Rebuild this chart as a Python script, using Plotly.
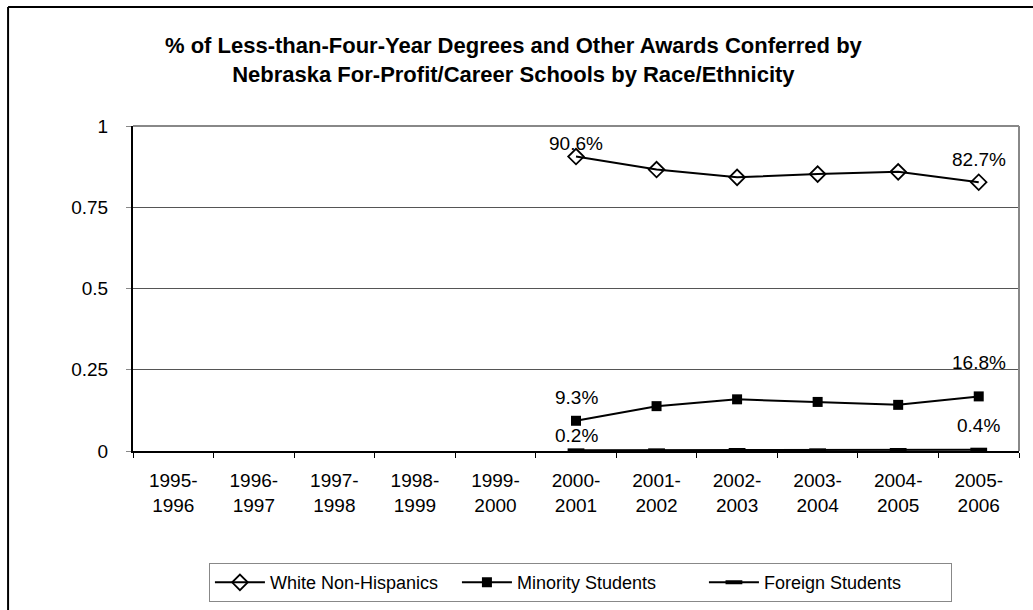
import plotly.graph_objects as go

# Academic years on the category axis
years = ["1995-1996", "1996-1997", "1997-1998", "1998-1999", "1999-2000",
         "2000-2001", "2001-2002", "2002-2003", "2003-2004", "2004-2005",
         "2005-2006"]
tick_text = [y.replace("-", "-<br>") for y in years]

# Share of awards (fraction); no data before 2000-2001
white = [None, None, None, None, None, 0.906, 0.866, 0.842, 0.852, 0.859, 0.827]
minority = [None, None, None, None, None, 0.093, 0.138, 0.159, 0.151, 0.142, 0.168]
foreign = [None, None, None, None, None, 0.002, 0.002, 0.003, 0.002, 0.003, 0.004]

# Label offsets (px) for the first and last points of each series
label_shift = {"white": (13, 23), "minority": (23, 34), "foreign": (15, 24)}

FONT = "Liberation Sans, Arial, sans-serif"

fig = go.Figure()
fig.add_trace(go.Scatter(
    x=years, y=white, name="White Non-Hispanics", mode="lines+markers",
    line=dict(color="black", width=2),
    marker=dict(symbol="diamond-open", size=12, color="black", line=dict(width=1.8)),
))
fig.add_trace(go.Scatter(
    x=years, y=minority, name="Minority Students", mode="lines+markers",
    line=dict(color="black", width=2),
    marker=dict(symbol="square", size=10, color="black"),
))
fig.add_trace(go.Scatter(
    x=years, y=foreign, name="Foreign Students", mode="lines+markers",
    line=dict(color="black", width=2),
    marker=dict(symbol="line-ew", size=12, color="black", line=dict(width=4, color="black")),
))

annotations = []
for key, series in (("white", white), ("minority", minority), ("foreign", foreign)):
    first = next(i for i, v in enumerate(series) if v is not None)
    last = len(series) - 1
    for idx, shift in zip((first, last), label_shift[key]):
        annotations.append(dict(
            x=years[idx], y=series[idx], xref="x", yref="y",
            text=f"{series[idx] * 100:.1f}%", showarrow=False,
            yshift=shift, font=dict(family=FONT, size=19, color="black"),
        ))

shapes = [
    # gray frame on top and right of the plot area
    dict(type="line", xref="paper", yref="paper", x0=0, x1=1, y0=1, y1=1,
         line=dict(color="#888888", width=2)),
    dict(type="line", xref="paper", yref="paper", x0=1, x1=1, y0=0, y1=1,
         line=dict(color="#888888", width=2)),
    # outer chart border
    dict(type="line", xref="paper", yref="paper", x0=-0.141, x1=-0.141, y0=-0.55, y1=1.366,
         line=dict(color="black", width=2)),
    dict(type="line", xref="paper", yref="paper", x0=-0.141, x1=1.05, y0=1.366, y1=1.366,
         line=dict(color="black", width=2)),
]

fig.update_layout(
    width=1033, height=610,
    margin=dict(l=133, r=14, t=126, b=159, autoexpand=False),
    paper_bgcolor="white", plot_bgcolor="white",
    font=dict(family=FONT, size=19, color="black"),
    title=dict(
        text="% of Less-than-Four-Year Degrees and Other Awards Conferred by<br>"
             "Nebraska For-Profit/Career Schools by Race/Ethnicity",
        x=0.497, xanchor="center", y=0.913, yanchor="middle",
        font=dict(family=FONT, size=22, color="black", weight="bold"),
    ),
    showlegend=True,
    legend=dict(
        orientation="h", x=0.505, xanchor="center", y=-0.345, yanchor="top",
        bordercolor="#888888", borderwidth=1, font=dict(family=FONT, size=18),
        itemwidth=50, entrywidth=182, entrywidthmode="pixels",
    ),
    annotations=annotations,
    shapes=shapes,
)
fig.update_xaxes(
    type="category", categoryorder="array", categoryarray=years,
    tickvals=years, ticktext=tick_text, tickson="boundaries",
    ticks="outside", ticklen=5, tickcolor="black",
    showline=True, linecolor="black", linewidth=2,
    showgrid=False, range=[-0.5, 10.5], tickfont=dict(size=19),
    ticklabelstandoff=11,
)
fig.update_yaxes(
    range=[0, 1], tickvals=[0, 0.25, 0.5, 0.75, 1],
    ticktext=["0", "0.25", "0.5", "0.75", "1"],
    ticks="outside", ticklen=5, tickcolor="#888888",
    showline=True, linecolor="black", linewidth=2,
    showgrid=True, gridcolor="#555555", gridwidth=1,
    zeroline=False, tickfont=dict(size=19),
    ticklabelstandoff=14,
)

fig.write_html("out.html")
